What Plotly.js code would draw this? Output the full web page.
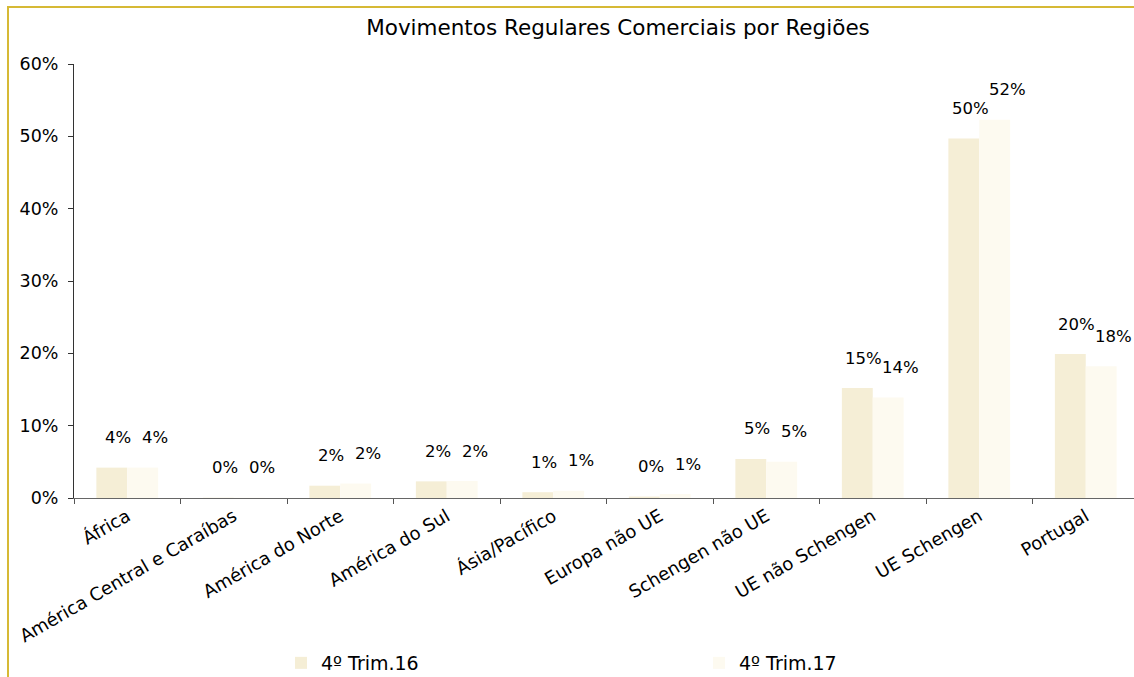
<!DOCTYPE html>
<html>
<head>
<meta charset="utf-8">
<script src="https://cdn.plot.ly/plotly-3.0.1.min.js"></script>
<style>
  html, body { margin: 0; padding: 0; overflow: hidden; background: #ffffff; width: 1134px; height: 677px; }
  #chart { position: absolute; left: 0; top: 0; width: 1140px; height: 677px; }
  #frame { position: absolute; left: 7px; top: 6px; width: 2000px; height: 2000px;
           border-left: 2px solid #D6B935; border-top: 2px solid #D6B935; pointer-events: none; }
</style>
</head>
<body>
<div id="chart"></div>
<div id="frame"></div>
<script>
const categories = ["África", "América Central e Caraíbas", "América do Norte", "América do Sul",
  "Ásia/Pacífico", "Europa não UE", "Schengen não UE", "UE não Schengen", "UE Schengen", "Portugal"];
const seriesNames = ["4º Trim.16", "4º Trim.17"];
const trim16 = [4.2, 0.04, 1.7, 2.3, 0.8, 0.2, 5.4, 15.2, 49.7, 19.9];
const trim17 = [4.2, 0.04, 2.0, 2.35, 1.0, 0.55, 5.0, 13.9, 52.3, 18.2];
const yTicks = [0, 10, 20, 30, 40, 50, 60];

const colors = ["#F5EED6", "#FDFAF0"];
const FONT = "DejaVu Sans, Verdana, sans-serif";

const traces = [trim16, trim17].map((vals, i) => ({
  type: "bar",
  name: seriesNames[i],
  x: categories,
  y: vals,
  marker: { color: colors[i], line: { width: 0 } },
  hoverinfo: "skip"
}));

const annotations = [];
[trim16, trim17].forEach((vals, i) => {
  vals.forEach((v, j) => {
    annotations.push({
      x: categories[j], y: v, xref: "x", yref: "y",
      text: Math.round(v) + "%",
      showarrow: false,
      xshift: i === 0 ? -9 : 28,
      yshift: 30,
      yanchor: "middle",
      xanchor: "center",
      font: { family: FONT, size: 16.5, color: "#000000" }
    });
  });
});

const layout = {
  width: 1140, height: 677,
  margin: { l: 74, r: 1, t: 64, b: 179, autoexpand: false },
  paper_bgcolor: "#ffffff",
  plot_bgcolor: "#ffffff",
  font: { family: FONT, size: 16, color: "#000000" },
  title: {
    text: "Movimentos Regulares Comerciais por Regiões",
    font: { family: FONT, size: 21.5, color: "#000000" },
    x: 618 / 1140, xanchor: "center",
    y: 1 - 27 / 677, yanchor: "middle"
  },
  barmode: "group",
  bargap: 0.42,
  bargroupgap: 0,
  xaxis: {
    type: "category",
    automargin: false,
    tickangle: -30,
    showline: true, linecolor: "#666666", linewidth: 1,
    ticks: "outside", tickson: "boundaries", ticklen: 5, tickcolor: "#555555",
    showgrid: false, zeroline: false,
    tickfont: { family: FONT, size: 18, color: "#000000" },
    fixedrange: true
  },
  yaxis: {
    range: [0, 60],
    automargin: false,
    tickvals: yTicks,
    ticktext: yTicks.map(t => t + "%"),
    showline: true, linecolor: "#333333", linewidth: 1,
    ticks: "outside", ticklen: 5, tickcolor: "#333333",
    ticklabelstandoff: 6,
    showgrid: false, zeroline: false,
    tickfont: { family: FONT, size: 17.5, color: "#000000" },
    fixedrange: true
  },
  showlegend: true,
  legend: {
    orientation: "h",
    x: (281 - 74) / 1065, xanchor: "left",
    y: (498 - 663) / 434, yanchor: "middle",
    entrywidth: 373, entrywidthmode: "pixels",
    font: { family: FONT, size: 19, color: "#000000" },
    bgcolor: "rgba(0,0,0,0)"
  },
  annotations: annotations
};

Plotly.newPlot("chart", traces, layout, { displayModeBar: false, staticPlot: true });
</script>
</body>
</html>
